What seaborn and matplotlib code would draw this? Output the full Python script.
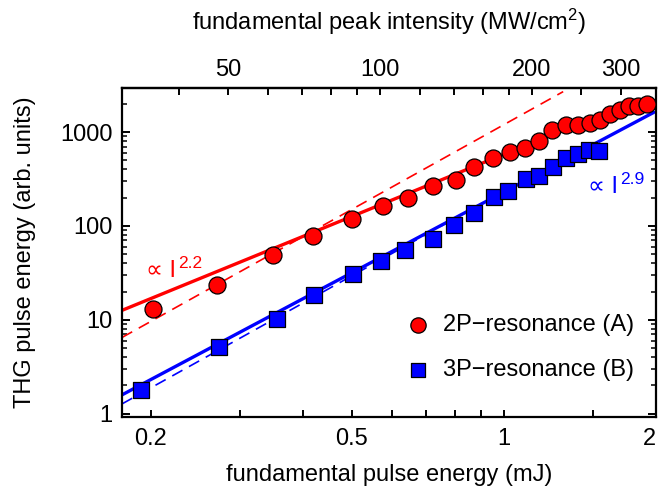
import numpy as np
import pandas as pd
import matplotlib
matplotlib.use("Agg")
import matplotlib.pyplot as plt
from matplotlib.ticker import FixedLocator, NullFormatter, FixedFormatter, LogLocator
import seaborn as sns

# ---------------- data ----------------
energy_2p = [0.202, 0.271, 0.349, 0.418, 0.501, 0.576, 0.647, 0.724, 0.805, 0.874,
             0.951, 1.026, 1.099, 1.171, 1.245, 1.329, 1.404, 1.478, 1.551, 1.624,
             1.694, 1.765, 1.842, 1.920]
thg_2p = [13.0, 23.6, 48.4, 77.3, 118.5, 161.5, 198.6, 264, 311, 425,
          530, 609, 678, 798, 1045, 1202, 1182, 1254, 1359, 1575,
          1709, 1886, 1918, 2000]

energy_3p = [0.191, 0.273, 0.355, 0.421, 0.502, 0.572, 0.638, 0.724, 0.797, 0.871,
             0.954, 1.021, 1.106, 1.175, 1.250, 1.329, 1.399, 1.471, 1.539]
thg_3p = [1.79, 5.10, 10.15, 18.3, 30.4, 42.7, 54.8, 72.5, 103, 137,
          203, 233, 319, 343, 425, 530, 590, 651, 635]

# power-law fits: prefactor, exponent, energy range
fit_2p_solid = (580.0, 2.2, 0.1754, 1.30)
fit_2p_dash = (1200.0, 3.0, 0.1754, 1.31)
fit_3p_solid = (230.0, 2.86, 0.1754, 1.98)
fit_3p_dash = (235.0, 3.0, 0.1754, 1.0)

labels = ["2P\u2212resonance (A)", "3P\u2212resonance (B)"]
exponent_labels = ["2.2", "2.9"]
x_ticks = [0.2, 0.5, 1, 2]
x_tick_labels = ["0.2", "0.5", "1", "2"]
x_minor = [0.3, 0.4, 0.6, 0.7, 0.8, 0.9, 1.5]
y_ticks = [1, 10, 100, 1000]
y_tick_labels = ["1", "10", "100", "1000"]
top_ticks = [50, 100, 200, 300]
top_minor = [40, 60, 70, 80, 90, 120, 140, 160, 180, 250]
intensity_per_mJ = 176.0  # MW/cm^2 per mJ

RED = "#ff0000"
BLUE = "#0000ff"

TICK_FS = 17
LABEL_FS = 17
LEG_FS = 17

# ---------------- style ----------------
sns.set_theme(style="ticks")
plt.rcParams["font.family"] = ["Liberation Sans", "DejaVu Sans"]
plt.rcParams["mathtext.fontset"] = "custom"
plt.rcParams["mathtext.rm"] = "Liberation Sans"
plt.rcParams["mathtext.it"] = "Liberation Sans"
plt.rcParams["axes.linewidth"] = 1.6
plt.rcParams["xtick.direction"] = "in"
plt.rcParams["ytick.direction"] = "in"
for key in ["text.color", "axes.labelcolor", "xtick.color", "ytick.color",
            "axes.edgecolor", "xtick.labelcolor", "ytick.labelcolor"]:
    plt.rcParams[key] = "black"

fig = plt.figure(figsize=(6.61, 4.96), dpi=100)
ax = fig.add_axes([122 / 661, 1 - 417 / 496, (656 - 122) / 661, (417 - 88) / 496])
ax.set_xscale("log")
ax.set_yscale("log")


def fit_df(params, n=60):
    a, k, e0, e1 = params
    e = np.geomspace(e0, e1, n)
    return pd.DataFrame({"E": e, "T": a * e ** k})


# fit lines
sns.lineplot(data=fit_df(fit_2p_dash), x="E", y="T", ax=ax, color=RED, lw=1.2,
             linestyle=(0, (7, 4.5)), zorder=2)
sns.lineplot(data=fit_df(fit_3p_dash), x="E", y="T", ax=ax, color=BLUE, lw=1.2,
             linestyle=(0, (7, 4.5)), zorder=2)
sns.lineplot(data=fit_df(fit_2p_solid), x="E", y="T", ax=ax, color=RED, lw=2.4, zorder=2)
sns.lineplot(data=fit_df(fit_3p_solid), x="E", y="T", ax=ax, color=BLUE, lw=2.4, zorder=2)

# data points
df2 = pd.DataFrame({"E": energy_2p, "T": thg_2p})
df3 = pd.DataFrame({"E": energy_3p, "T": thg_3p})
sns.scatterplot(data=df2, x="E", y="T", ax=ax, marker="o", s=150,
                color=RED, edgecolor="black", linewidth=0.9, zorder=4, label=labels[0])
sns.scatterplot(data=df3, x="E", y="T", ax=ax, marker="s", s=128,
                color=BLUE, edgecolor="black", linewidth=0.9, zorder=4, label=labels[1])

ax.set_xlim(0.1754, 2.0)
ax.set_ylim(0.92, 2950)

# bottom ticks
ax.xaxis.set_major_locator(FixedLocator(x_ticks))
ax.xaxis.set_major_formatter(FixedFormatter(x_tick_labels))
ax.xaxis.set_minor_locator(FixedLocator(x_minor))
ax.xaxis.set_minor_formatter(NullFormatter())
ax.tick_params(axis="x", which="both", top=False, bottom=True, length=5, width=1.4,
               labelsize=TICK_FS, pad=8, colors="black")
for lbl in ax.get_xticklabels():
    if lbl.get_text() == "2":
        lbl.set_horizontalalignment("right")

# y ticks
ax.yaxis.set_major_locator(FixedLocator(y_ticks))
ax.yaxis.set_major_formatter(FixedFormatter(y_tick_labels))
ax.yaxis.set_minor_locator(LogLocator(base=10, subs=np.arange(2, 10), numticks=20))
ax.yaxis.set_minor_formatter(NullFormatter())
ax.tick_params(axis="y", which="major", left=True, right=True, length=6, width=1.4,
               labelsize=TICK_FS, pad=7, colors="black")
ax.tick_params(axis="y", which="minor", left=True, right=True, length=3.5, width=1.1,
               colors="black")

ax.set_xlabel("fundamental pulse energy (mJ)", fontsize=LABEL_FS, labelpad=10, color="black")
ax.set_ylabel("THG pulse energy (arb. units)", fontsize=LABEL_FS, labelpad=17, color="black")

# top axis
sec = ax.secondary_xaxis("top", functions=(lambda e: e * intensity_per_mJ,
                                           lambda i: i / intensity_per_mJ))
sec.xaxis.set_major_locator(FixedLocator(top_ticks))
sec.xaxis.set_major_formatter(FixedFormatter([str(t) for t in top_ticks]))
sec.xaxis.set_minor_locator(FixedLocator(top_minor))
sec.xaxis.set_minor_formatter(NullFormatter())
sec.tick_params(axis="x", which="both", direction="in", length=5, width=1.4,
                labelsize=TICK_FS, pad=5, colors="black")
sec.set_xlabel("fundamental peak intensity (MW/cm$^{2}$)", fontsize=LABEL_FS,
               labelpad=21, color="black")
sec.spines["top"].set_linewidth(1.6)
sec.spines["top"].set_color("black")

for s in ax.spines.values():
    s.set_linewidth(1.6)
    s.set_color("black")


# power-law annotations
def power_label(x, y, expo, color):
    t = ax.text(x, y, "\u221d I", color=color, fontsize=LEG_FS, ha="left",
                va="baseline", family=["Liberation Sans", "DejaVu Sans"])
    ax.annotate(expo, xy=(1.0, 0.62), xycoords=t, xytext=(1.5, 0),
                textcoords="offset points", color=color, fontsize=12.5,
                ha="left", va="baseline")


power_label(0.1957, 28.7, exponent_labels[0], RED)
power_label(1.47, 226, exponent_labels[1], BLUE)

# legend
leg = ax.legend(loc="center left", bbox_to_anchor=(0.532, 0.211), frameon=False,
                fontsize=LEG_FS, handlelength=1.0, handletextpad=0.55, labelspacing=0.95,
                borderpad=0, borderaxespad=0, markerscale=0.9)
for txt in leg.get_texts():
    txt.set_color("black")

fig.savefig("out.png", dpi=100)
